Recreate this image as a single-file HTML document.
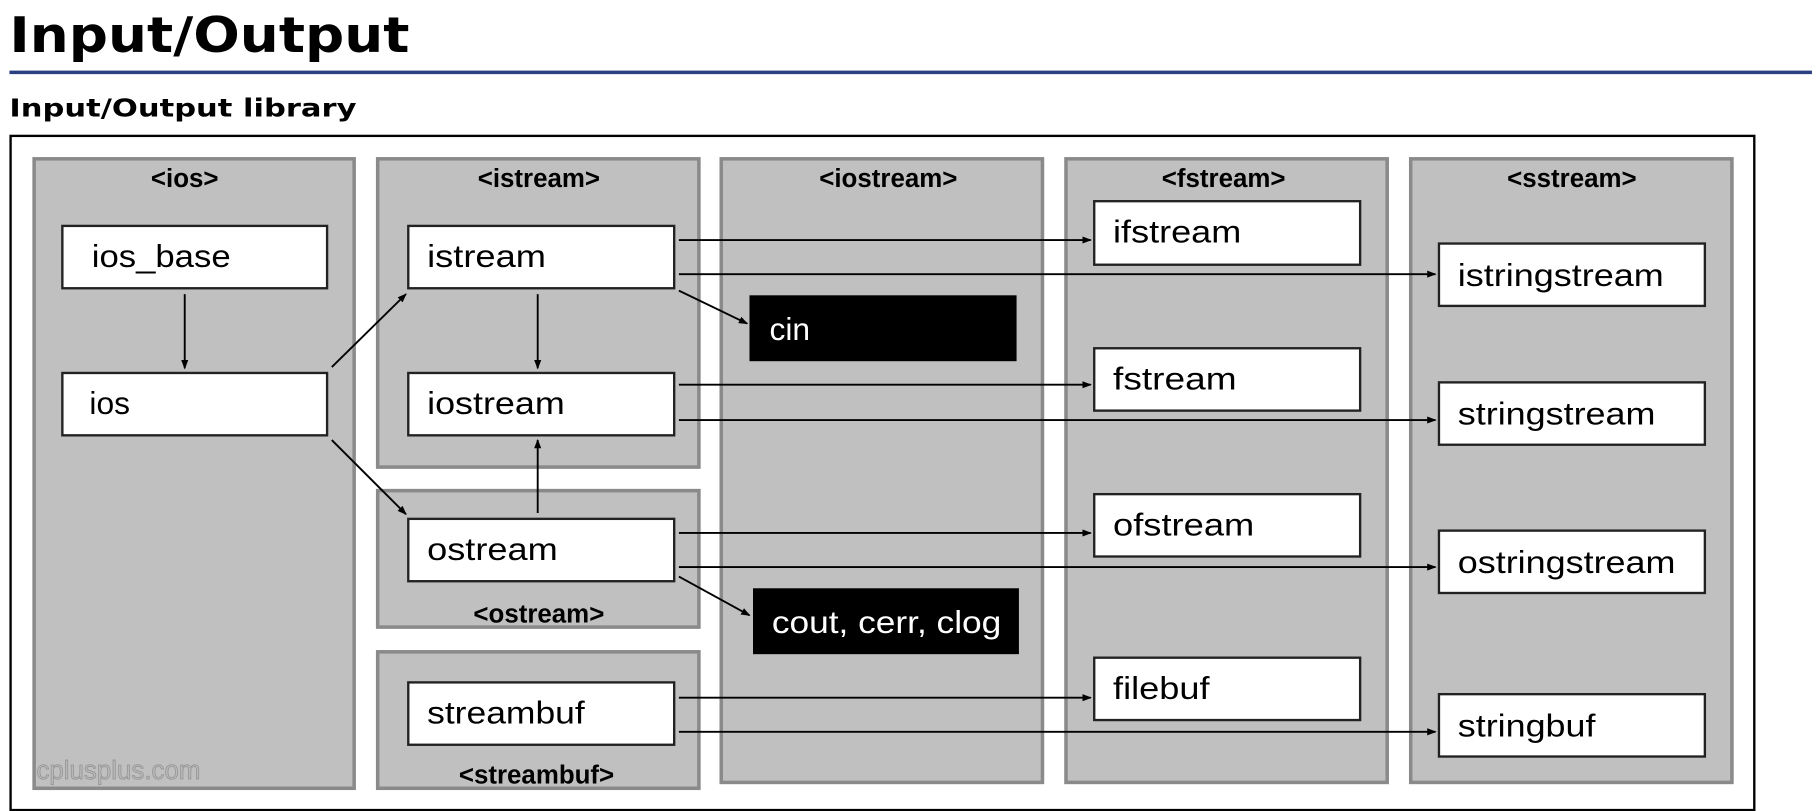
<!DOCTYPE html>
<html><head><meta charset="utf-8"><style>html,body{margin:0;padding:0;background:#fff;overflow:hidden}svg{display:block}</style></head>
<body>
<svg width="1819" height="811" viewBox="0 0 1546 689.3" preserveAspectRatio="none" xmlns="http://www.w3.org/2000/svg">
<defs>
<marker id="a" markerWidth="8" markerHeight="8" refX="7" refY="4" orient="auto" markerUnits="userSpaceOnUse"><path d="M0,1 L8,4 L0,7 z" fill="#000"/></marker>
</defs>
<text x="8" y="44" font-family="DejaVu Sans, sans-serif" font-weight="bold" font-size="42" textLength="340" lengthAdjust="spacingAndGlyphs">Input/Output</text>
<rect x="8" y="60" width="1532" height="3" fill="#2b4080"/>
<text x="8" y="99" font-family="DejaVu Sans, sans-serif" font-weight="bold" font-size="21" textLength="295" lengthAdjust="spacingAndGlyphs">Input/Output library</text>
<rect x="9" y="115.5" width="1482" height="573" fill="#fff" stroke="#000" stroke-width="2"/>
<g fill="#c0c0c0" stroke="#8a8a8a" stroke-width="3">
<rect x="29" y="135" width="272" height="535"/>
<rect x="321" y="135" width="273" height="262"/>
<rect x="321" y="417" width="273" height="116"/>
<rect x="321" y="554" width="273" height="116"/>
<rect x="613" y="135" width="273" height="530"/>
<rect x="906" y="135" width="273" height="530"/>
<rect x="1199" y="135" width="273" height="530"/>
</g>
<g font-family="Liberation Sans, Arial, sans-serif" font-weight="bold" font-size="22" text-anchor="middle" fill="#000">
<text x="157" y="159">&lt;ios&gt;</text>
<text x="458" y="159">&lt;istream&gt;</text>
<text x="755" y="159">&lt;iostream&gt;</text>
<text x="1040" y="159">&lt;fstream&gt;</text>
<text x="1336" y="159">&lt;sstream&gt;</text>
<text x="458" y="529">&lt;ostream&gt;</text>
<text x="456" y="666">&lt;streambuf&gt;</text>
</g>
<text x="31" y="662" font-family="Liberation Sans, Arial, sans-serif" font-size="22" fill="#b8b8b8" stroke="#909090" stroke-width="0.6">cplusplus.com</text>
<g fill="#fff" stroke="#222" stroke-width="2">
<rect x="53" y="192" width="225" height="53"/>
<rect x="53" y="317" width="225" height="53"/>
<rect x="347" y="192" width="226" height="53"/>
<rect x="347" y="317" width="226" height="53"/>
<rect x="347" y="441" width="226" height="53"/>
<rect x="347" y="580" width="226" height="53"/>
<rect x="930" y="171" width="226" height="54"/>
<rect x="930" y="296" width="226" height="53"/>
<rect x="930" y="420" width="226" height="53"/>
<rect x="930" y="559" width="226" height="53"/>
<rect x="1223" y="207" width="226" height="53"/>
<rect x="1223" y="325" width="226" height="53"/>
<rect x="1223" y="451" width="226" height="53"/>
<rect x="1223" y="590" width="226" height="53"/>
</g>
<rect x="637" y="251" width="227" height="56" fill="#000"/>
<rect x="640" y="500" width="226" height="56" fill="#000"/>
<g font-family="Liberation Sans, Arial, sans-serif" font-size="27" fill="#000">
<text x="78" y="227" textLength="118" lengthAdjust="spacingAndGlyphs">ios_base</text>
<text x="76" y="352">ios</text>
<text x="363" y="227" textLength="101" lengthAdjust="spacingAndGlyphs">istream</text>
<text x="363" y="352" textLength="117" lengthAdjust="spacingAndGlyphs">iostream</text>
<text x="363" y="476" textLength="111" lengthAdjust="spacingAndGlyphs">ostream</text>
<text x="363" y="615" textLength="134" lengthAdjust="spacingAndGlyphs">streambuf</text>
<text x="946" y="206" textLength="109" lengthAdjust="spacingAndGlyphs">ifstream</text>
<text x="946" y="331" textLength="105" lengthAdjust="spacingAndGlyphs">fstream</text>
<text x="946" y="455" textLength="120" lengthAdjust="spacingAndGlyphs">ofstream</text>
<text x="946" y="594" textLength="82" lengthAdjust="spacingAndGlyphs">filebuf</text>
<text x="1239" y="243" textLength="175" lengthAdjust="spacingAndGlyphs">istringstream</text>
<text x="1239" y="361" textLength="168" lengthAdjust="spacingAndGlyphs">stringstream</text>
<text x="1239" y="487" textLength="185" lengthAdjust="spacingAndGlyphs">ostringstream</text>
<text x="1239" y="626" textLength="117" lengthAdjust="spacingAndGlyphs">stringbuf</text>
<text x="654" y="289" fill="#fff">cin</text>
<text x="656" y="538" fill="#fff" textLength="195" lengthAdjust="spacingAndGlyphs">cout, cerr, clog</text>
</g>
<g stroke="#000" stroke-width="1.6" fill="none" marker-end="url(#a)">
<line x1="157" y1="250" x2="157" y2="313"/>
<line x1="457" y1="250" x2="457" y2="313"/>
<line x1="457" y1="436" x2="457" y2="374"/>
<line x1="282" y1="312" x2="345" y2="250"/>
<line x1="282" y1="374" x2="345" y2="437"/>
<line x1="577" y1="247" x2="635" y2="275"/>
<line x1="577" y1="490" x2="637" y2="523"/>
<line x1="577" y1="204" x2="927" y2="204"/>
<line x1="577" y1="233" x2="1220" y2="233"/>
<line x1="577" y1="327" x2="927" y2="327"/>
<line x1="577" y1="357" x2="1220" y2="357"/>
<line x1="577" y1="453" x2="927" y2="453"/>
<line x1="577" y1="482" x2="1220" y2="482"/>
<line x1="577" y1="593" x2="927" y2="593"/>
<line x1="577" y1="622" x2="1220" y2="622"/>
</g>
</svg>
</body></html>
